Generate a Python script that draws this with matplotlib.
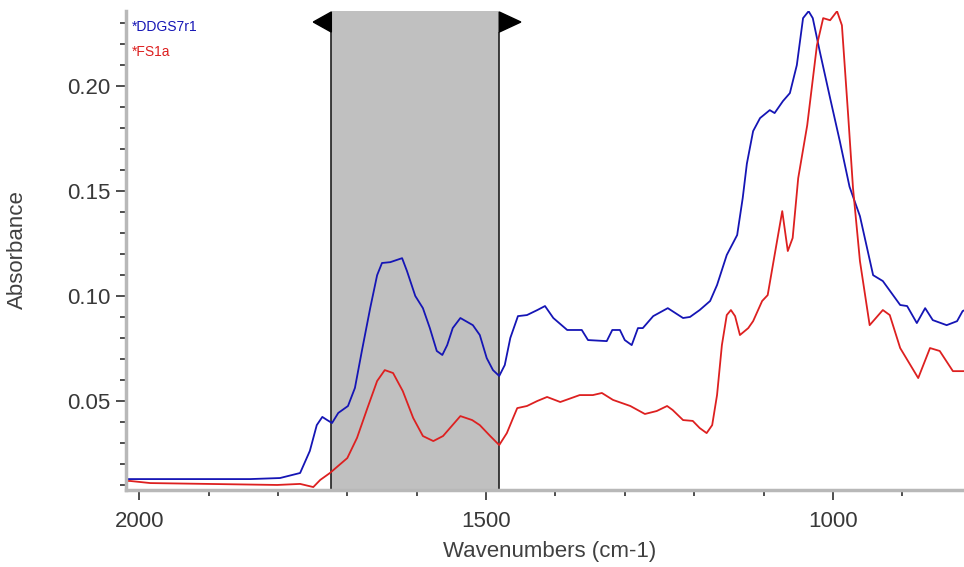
import matplotlib
matplotlib.use("Agg")
import matplotlib.pyplot as plt
from matplotlib.patches import Polygon
from matplotlib.ticker import MultipleLocator

plt.rcParams['font.family'] = ['Liberation Sans', 'DejaVu Sans']

# ---- data ----
blue_name = "*DDGS7r1"
red_name = "*FS1a"

blue_wn = [2019, 2013, 1912, 1840, 1797, 1768, 1754, 1744, 1736, 1729, 1722, 1713, 1699, 1689,
           1679, 1667, 1657, 1650, 1638, 1621, 1614, 1602, 1591, 1581, 1571, 1563, 1556, 1548,
           1537, 1519, 1509, 1499, 1490, 1481, 1473, 1465, 1454, 1441, 1426, 1415, 1403, 1383,
           1362, 1353, 1326, 1318, 1307, 1300, 1290, 1281, 1274, 1259, 1238, 1216, 1206, 1192,
           1177, 1167, 1153, 1138, 1130, 1124, 1115, 1105, 1091, 1084, 1072, 1062, 1052, 1043,
           1035, 1029, 1019, 1004, 990, 976, 961, 942, 928, 903, 893, 879, 867, 856, 836, 821,
           813, 805]
blue_abs = [0.0128, 0.0128, 0.0128, 0.0128, 0.0133, 0.0157, 0.0262, 0.0385, 0.0424, 0.0409,
            0.0395, 0.0443, 0.0476, 0.0562, 0.0738, 0.0942, 0.1099, 0.1157, 0.1161, 0.1180,
            0.1119, 0.1000, 0.0942, 0.0847, 0.0738, 0.0719, 0.0766, 0.0847, 0.0895, 0.0861,
            0.0814, 0.0704, 0.0647, 0.0619, 0.0671, 0.0800, 0.0904, 0.0909, 0.0933, 0.0952,
            0.0895, 0.0838, 0.0838, 0.0790, 0.0785, 0.0838, 0.0838, 0.0790, 0.0766, 0.0847,
            0.0847, 0.0904, 0.0942, 0.0895, 0.0900, 0.0933, 0.0976, 0.1052, 0.1195, 0.1290,
            0.1466, 0.1630, 0.1785, 0.1847, 0.1885, 0.1871, 0.1928, 0.1966, 0.2099, 0.2323,
            0.2356, 0.2323, 0.2166, 0.1942, 0.1737, 0.1520, 0.1380, 0.1099, 0.1071, 0.0957,
            0.0952, 0.0871, 0.0942, 0.0885, 0.0861, 0.0880, 0.0928, 0.0940]

red_wn = [2019, 2013, 1984, 1801, 1768, 1749, 1739, 1725, 1700, 1686, 1671, 1657, 1646, 1634,
          1620, 1605, 1591, 1576, 1562, 1552, 1537, 1520, 1509, 1494, 1481, 1470, 1461, 1455,
          1441, 1426, 1412, 1393, 1365, 1346, 1333, 1317, 1292, 1271, 1254, 1239, 1231, 1216,
          1202, 1192, 1182, 1174, 1167, 1160, 1153, 1147, 1141, 1134, 1122, 1115, 1102, 1094,
          1084, 1073, 1065, 1058, 1050, 1037, 1023, 1014, 1004, 994, 987, 978, 971, 961, 947,
          928, 918, 903, 877, 860, 846, 827, 813, 805]
red_abs = [0.0119, 0.0119, 0.0109, 0.0100, 0.0105, 0.0090, 0.0124, 0.0157, 0.0228, 0.0324,
           0.0466, 0.0595, 0.0647, 0.0633, 0.0547, 0.0419, 0.0333, 0.0309, 0.0333, 0.0371,
           0.0428, 0.0409, 0.0385, 0.0333, 0.0290, 0.0347, 0.0419, 0.0466, 0.0476, 0.0500,
           0.0519, 0.0495, 0.0528, 0.0528, 0.0538, 0.0505, 0.0476, 0.0438, 0.0452, 0.0476,
           0.0457, 0.0409, 0.0405, 0.0371, 0.0347, 0.0385, 0.0528, 0.0766, 0.0909, 0.0933,
           0.0904, 0.0814, 0.0847, 0.0880, 0.0976, 0.1004, 0.1195, 0.1404, 0.1214, 0.1276,
           0.1561, 0.1813, 0.2194, 0.2323, 0.2313, 0.2356, 0.2289, 0.1861, 0.1514, 0.1166,
           0.0861, 0.0933, 0.0909, 0.0752, 0.0609, 0.0752, 0.0738, 0.0642, 0.0642, 0.0642]

region_left = 1723
region_right = 1481

x_ticks = [2000, 1500, 1000]
y_ticks = [0.05, 0.10, 0.15, 0.20]

# ---- figure ----
fig = plt.figure(figsize=(9.64, 5.67), dpi=100)
ax = fig.add_axes([126 / 964, (567 - 490) / 567, (964 - 126) / 964, (490 - 11) / 567])

ax.set_xlim(2019, 811)
ax.set_ylim(0.0076, 0.2357)

# shaded region
ax.axvspan(region_right, region_left, color='#c0c0c0', zorder=0, lw=0)
trans = ax.get_xaxis_transform()
ax.vlines([region_left, region_right], 0, 0.956, transform=trans, colors='#202020', lw=1.2, zorder=1)
arrow_w = 26
ax.add_patch(Polygon([[region_left, 0.998], [region_left, 0.956], [region_left + arrow_w, 0.977]],
                     closed=True, transform=trans, color='black', clip_on=False, zorder=3))
ax.add_patch(Polygon([[region_right, 0.998], [region_right, 0.956], [region_right - arrow_w * 1.2, 0.977]],
                     closed=True, transform=trans, color='black', clip_on=False, zorder=3))

ax.plot(blue_wn, blue_abs, color='#1515b5', lw=1.3, zorder=2)
ax.plot(red_wn, red_abs, color='#dd2020', lw=1.3, zorder=2)

ax.text(0.007, 0.967, blue_name, transform=ax.transAxes, color='#1515b5', fontsize=10, va='center', ha='left')
ax.text(0.007, 0.914, red_name, transform=ax.transAxes, color='#dd2020', fontsize=10, va='center', ha='left')

# spines / ticks
for s in ['top', 'right']:
    ax.spines[s].set_visible(False)
for s in ['left', 'bottom']:
    ax.spines[s].set_color('#b8b8b8')
    ax.spines[s].set_linewidth(2.5)

ax.set_xticks(x_ticks)
ax.set_xticklabels([str(t) for t in x_ticks])
ax.xaxis.set_minor_locator(MultipleLocator(100))
ax.set_yticks(y_ticks)
ax.set_yticklabels([f"{t:.2f}" for t in y_ticks])
ax.yaxis.set_minor_locator(MultipleLocator(0.01))

ax.tick_params(axis='both', which='major', direction='out', length=7, width=1.2, color='#303030',
               labelsize=16, labelcolor='#383838', pad=4)
ax.tick_params(axis='x', which='major', pad=8)
ax.tick_params(axis='both', which='minor', direction='out', length=4, width=1.2, color='#303030')

ax.set_xlabel("Wavenumbers (cm-1)", fontsize=16, color='#404040', va='center')
ax.set_ylabel("Absorbance", fontsize=16, color='#404040', va='center')
ax.xaxis.set_label_coords(0.505, -0.129)
ax.yaxis.set_label_coords(-0.129, 0.503)

fig.savefig("out.png", dpi=100)
